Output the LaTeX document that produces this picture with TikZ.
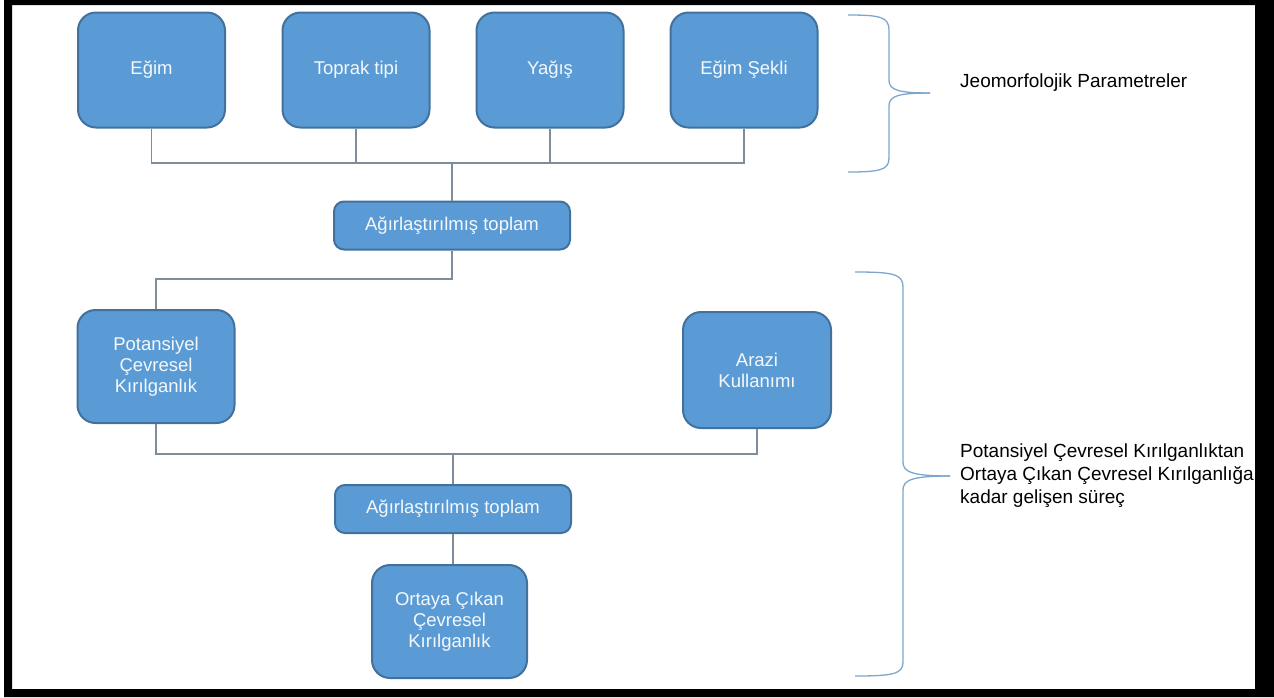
\documentclass[tikz,border=0pt]{standalone}
\usepackage{fontspec}
\setmainfont{Liberation Sans}
\usepackage{xcolor}
\usetikzlibrary{calc}
\definecolor{kutumavi}{HTML}{5B9BD5}
\definecolor{kutucizgi}{HTML}{41719C}
\definecolor{baglanti}{HTML}{7F8C99}
\definecolor{parantez}{HTML}{7DA6CF}
\definecolor{yazibeyaz}{HTML}{F4F8FB}

\begin{document}
\begin{tikzpicture}[x=1pt,y=-1pt,
	kutu/.style={draw=kutucizgi, line width=2pt, fill=kutumavi, text=yazibeyaz, rounded corners=18pt, align=center, minimum width=147pt, minimum height=115pt, inner sep=0pt, font=\fontsize{18.5}{21}\selectfont},
	toplam/.style={kutu, rounded corners=10pt, minimum width=236pt, minimum height=48pt},
	conn/.style={draw=baglanti, line width=1.3pt},
	parantezcizgi/.style={draw=parantez, line width=1.3pt},
	aciklama/.style={align=left, anchor=west, inner sep=0pt, font=\fontsize{19}{23}\selectfont}]
	\useasboundingbox[fill=white] (0,0) rectangle (1274,697);

	% ust sira
	\node[kutu] (egim) at (151.5,70) {Eğim};
	\node[kutu] (toprak) at (356,70) {Toprak tipi};
	\node[kutu] (yagis) at (550,70) {Yağış};
	\node[kutu] (sekli) at (744,70) {Eğim Şekli};
	\node[toplam] (agir1) at (452,225.5) {Ağırlaştırılmış toplam};

	% alt kisim
	\node[kutu, minimum width=157pt, minimum height=113pt] (pot) at (156,366.5) {Potansiyel\\Çevresel\\Kırılganlık};
	\node[kutu, minimum width=148pt, minimum height=116pt] (arazi) at (757,370) {Arazi\\Kullanımı};
	\node[toplam] (agir2) at (453,509) {Ağırlaştırılmış toplam};
	\node[kutu, minimum width=155pt, minimum height=113pt] (ortaya) at (449.5,621.5) {Ortaya Çıkan\\Çevresel\\Kırılganlık};

	\coordinate (b1) at (452,163);
	\coordinate (b2) at (452,279);
	\coordinate (b3) at (453,454);

	\draw[conn] (egim.south) |- (b1);
	\draw[conn] (toprak.south) |- (b1);
	\draw[conn] (yagis.south) |- (b1);
	\draw[conn] (sekli.south) |- (b1);
	\draw[conn] (b1) -- (agir1.north);
	\draw[conn] (agir1.south) -- (b2) -| (pot.north);
	\draw[conn] (pot.south) |- (b3);
	\draw[conn] (arazi.south) |- (b3);
	\draw[conn] (b3) -- (agir2.north);
	\draw[conn] (agir2.south) -- (agir2.south |- ortaya.north);

	% parantezler
	\coordinate (uc1) at (930,93);
	\coordinate (uc2) at (950,476);
	\draw[parantezcizgi] (848,15) .. controls (880,15) and (889,17) .. (889,30) -- (889,80)
		.. controls (889,90) and (898,93) .. (uc1);
	\draw[parantezcizgi] (uc1) .. controls (898,93) and (889,96) .. (889,106) -- (889,158)
		.. controls (889,170) and (880,172) .. (848,172);
	\draw[parantezcizgi] (855,272) .. controls (893,272) and (903,274) .. (903,287) -- (903,462)
		.. controls (903,472) and (912,476) .. (uc2);
	\draw[parantezcizgi] (uc2) .. controls (912,476) and (903,480) .. (903,490) -- (903,662)
		.. controls (903,674) and (893,676) .. (855,676);

	\node[aciklama] (jeo) at (960,83) {Jeomorfolojik Parametreler};
	\node[aciklama] (surec) at (960,476) {Potansiyel Çevresel Kırılganlıktan\\Ortaya Çıkan Çevresel Kırılganlığa\\kadar gelişen süreç};

	% cerceve
	\fill[black, even odd rule] (4,0) rectangle (1274,697) (12,5) rectangle (1255,689);
\end{tikzpicture}
\end{document}
